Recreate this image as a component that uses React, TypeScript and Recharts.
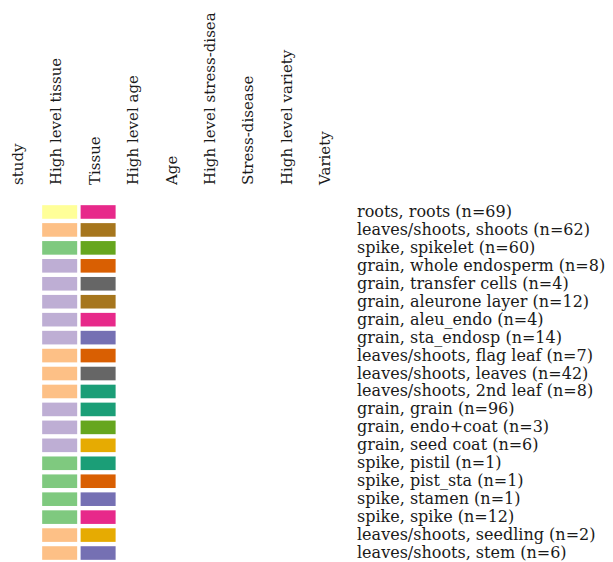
import { ScatterChart, Scatter, XAxis, YAxis, Cell } from 'recharts';

const columns = [
  'study',
  'High level tissue',
  'Tissue',
  'High level age',
  'Age',
  'High level stress-disea',
  'Stress-disease',
  'High level variety',
  'Variety',
];

const highLevel = [
  'roots', 'leaves/shoots', 'spike', 'grain', 'grain', 'grain', 'grain', 'grain',
  'leaves/shoots', 'leaves/shoots', 'leaves/shoots', 'grain', 'grain', 'grain',
  'spike', 'spike', 'spike', 'spike', 'leaves/shoots', 'leaves/shoots',
];

const tissues = [
  'roots', 'shoots', 'spikelet', 'whole endosperm', 'transfer cells', 'aleurone layer',
  'aleu_endo', 'sta_endosp', 'flag leaf', 'leaves', '2nd leaf', 'grain', 'endo+coat',
  'seed coat', 'pistil', 'pist_sta', 'stamen', 'spike', 'seedling', 'stem',
];

const counts = [69, 62, 60, 8, 4, 12, 4, 14, 7, 42, 8, 96, 3, 6, 1, 1, 1, 12, 2, 6];

const highLevelColors: Record<string, string> = {
  roots: '#FFFF99',
  'leaves/shoots': '#FDC086',
  spike: '#7FC97F',
  grain: '#BEAED4',
};

const tissueColors: Record<string, string> = {
  roots: '#E7298A',
  shoots: '#A6761D',
  spikelet: '#66A61E',
  'whole endosperm': '#D95F02',
  'transfer cells': '#666666',
  'aleurone layer': '#A6761D',
  aleu_endo: '#E7298A',
  sta_endosp: '#7570B3',
  'flag leaf': '#D95F02',
  leaves: '#666666',
  '2nd leaf': '#1B9E77',
  grain: '#1B9E77',
  'endo+coat': '#66A61E',
  'seed coat': '#E6AB02',
  pistil: '#1B9E77',
  pist_sta: '#D95F02',
  stamen: '#7570B3',
  spike: '#E7298A',
  seedling: '#E6AB02',
  stem: '#7570B3',
};

const rowLabels = tissues.map((t, i) => `${highLevel[i]}, ${t} (n=${counts[i]})`);

// column / row indices on numeric axes so empty columns keep their slot
const cells = [
  ...rowLabels.map((_, i) => ({ col: 1, row: i, fill: highLevelColors[highLevel[i]] })),
  ...rowLabels.map((_, i) => ({ col: 2, row: i, fill: tissueColors[tissues[i]] })),
];

const FONT = '"DejaVu Serif", "Liberation Serif", serif';

const CellRect = (props: any) => {
  const { cx, cy, fill } = props;
  const w = 35;
  const h = 13.6;
  return <rect x={cx - w / 2} y={cy - h / 2} width={w} height={h} fill={fill} />;
};

const ColumnTick = ({ x, y, payload }: any) => (
  <text
    x={x}
    y={y}
    transform={`rotate(-90, ${x}, ${y})`}
    dy={1.5}
    textAnchor="start"
    fontFamily={FONT}
    fontSize={15}
    fill="#1a1a1a"
  >
    {columns[payload.value]}
  </text>
);

const RowTick = ({ x, y, payload }: any) => (
  <text x={x} y={y} dy={5} textAnchor="start" fontFamily={FONT} fontSize={16} fill="#1a1a1a">
    {rowLabels[payload.value]}
  </text>
);

const colTicks = columns.map((_, i) => i);
const rowTicks = rowLabels.map((_, i) => i);

export default function App() {
  return (
    <div style={{ width: 613, height: 562 }}>
      <style>{'body{margin:0}'}</style>
      <ScatterChart width={613} height={562} margin={{ top: 0, right: 0, bottom: 0, left: 2 }}>
        <XAxis
          xAxisId="col"
          type="number"
          dataKey="col"
          orientation="top"
          domain={[-0.5, columns.length - 0.5]}
          ticks={colTicks}
          height={203}
          axisLine={false}
          tickLine={false}
          tick={<ColumnTick />}
          interval={0}
          tickMargin={12}
        />
        <YAxis
          yAxisId="row"
          type="number"
          dataKey="row"
          orientation="right"
          reversed
          domain={[-0.5, rowLabels.length - 0.5]}
          ticks={rowTicks}
          width={265}
          axisLine={false}
          tickLine={false}
          tick={<RowTick />}
          interval={0}
          tickMargin={3}
        />
        <Scatter
          xAxisId="col"
          yAxisId="row"
          data={cells}
          shape={<CellRect />}
          isAnimationActive={false}
        >
          {cells.map((c, i) => (
            <Cell key={i} fill={c.fill} />
          ))}
        </Scatter>
      </ScatterChart>
    </div>
  );
}
